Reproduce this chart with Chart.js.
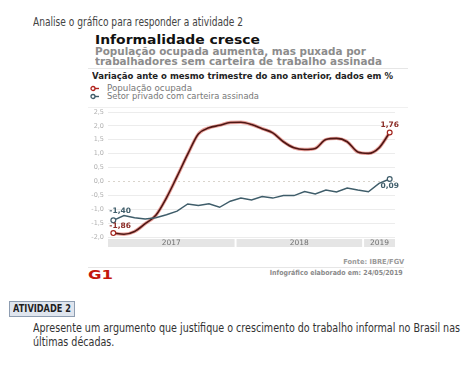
<!DOCTYPE html>
<html>
<head>
<meta charset="utf-8">
<script src="https://cdn.jsdelivr.net/npm/chart.js@4.4.1/dist/chart.umd.min.js"></script>
<style>
  body { margin: 0; background: #fff; width: 474px; height: 377px; overflow: hidden; position: relative; font-family: "DejaVu Sans", sans-serif; }
  .t { position: absolute; white-space: nowrap; transform-origin: left center; }
  .r { transform-origin: right center; }
  .hr { position: absolute; height: 1px; background: #e6e6e6; }
  #chartBox { position: absolute; left: 80px; top: 100px; width: 330px; height: 152px; }
</style>
</head>
<body>
<div class="t" data-w="210" style="left:33px; top:15px; font-size:12px; line-height:14px; color:#444;">Analise o gráfico para responder a atividade 2</div>

<div class="t" data-w="165" style="left:95px; top:32px; font-size:13px; line-height:15px; font-weight:bold; color:#111;">Informalidade cresce</div>
<div class="t" data-w="287" style="left:95px; top:46.5px; font-size:11px; line-height:10.5px; font-weight:bold; color:#8c8c8c;">População ocupada aumenta, mas puxada por<br>trabalhadores sem carteira de trabalho assinada</div>
<div class="hr" style="left:88px; top:68px; width:320px;"></div>
<div class="t" data-w="301" style="left:92px; top:71px; font-size:9px; line-height:10px; font-weight:bold; color:#222;">Variação ante o mesmo trimestre do ano anterior, dados em %</div>

<svg style="position:absolute; left:90px; top:84px;" width="12" height="16">
  <line x1="3" y1="4.5" x2="9" y2="4.5" stroke="#b2231d" stroke-width="1.4"/>
  <circle cx="3" cy="4.5" r="2" fill="#fff" stroke="#b2231d" stroke-width="1.3"/>
  <line x1="3" y1="12.5" x2="9" y2="12.5" stroke="#3f5d6a" stroke-width="1.4"/>
  <circle cx="3" cy="12.5" r="2" fill="#fff" stroke="#3f5d6a" stroke-width="1.3"/>
</svg>
<div class="t" data-w="85" style="left:107px; top:84px; font-size:8px; line-height:9px; color:#777;">População ocupada</div>
<div class="t" data-w="152" style="left:107px; top:92px; font-size:8px; line-height:9px; color:#777;">Setor privado com carteira assinada</div>
<div class="hr" style="left:88px; top:107px; width:320px; background:#f0f0f0;"></div>

<div id="chartBox"><canvas id="chart" width="330" height="152"></canvas></div>

<div class="t r" data-w="61" style="right:70px; top:258px; font-size:7px; line-height:8px; font-weight:bold; color:#9a9a9a;">Fonte: IBRE/FGV</div>
<div class="hr" style="left:88px; top:267px; width:316px;"></div>
<div class="t" data-w="25" style="left:88px; top:268px; font-size:13px; line-height:14px; font-weight:bold; color:#c4170c;">G1</div>
<div class="t r" data-w="133" style="right:71px; top:269px; font-size:7px; line-height:8px; font-weight:bold; color:#8a8a8a;">Infográfico elaborado em: 24/05/2019</div>

<div style="position:absolute; left:9px; top:301px; width:64px; height:14px; background:#dfe5ee; border:1px solid #8e9db1;"></div>
<div class="t" data-w="58" style="left:13px; top:303px; font-size:10px; line-height:11px; font-weight:bold; color:#1e1e1e;">ATIVIDADE 2</div>
<div class="t" data-w="427" style="left:33px; top:322px; font-size:12px; line-height:13.5px; color:#333;">Apresente um argumento que justifique o crescimento do trabalho informal no Brasil nas<br>últimas décadas.</div>

<script>
const months = ['jan/17', 'fev/17', 'mar/17', 'abr/17', 'mai/17', 'jun/17', 'jul/17', 'ago/17', 'set/17', 'out/17', 'nov/17', 'dez/17',
                'jan/18', 'fev/18', 'mar/18', 'abr/18', 'mai/18', 'jun/18', 'jul/18', 'ago/18', 'set/18', 'out/18', 'nov/18', 'dez/18',
                'jan/19', 'fev/19', 'mar/19'];
const years = ['2017', '2018', '2019'];
const populacaoOcupada = [-1.86, -1.90, -1.80, -1.52, -1.22, -0.59, 0.18, 0.98, 1.71, 1.93, 2.02, 2.12, 2.13, 2.05, 1.90, 1.75, 1.43, 1.21, 1.15, 1.19, 1.51, 1.55, 1.43, 1.06, 1.01, 1.21, 1.76];
const setorPrivado = [-1.40, -1.23, -1.31, -1.35, -1.31, -1.20, -1.07, -0.81, -0.87, -0.80, -0.93, -0.71, -0.60, -0.67, -0.54, -0.60, -0.51, -0.51, -0.36, -0.45, -0.31, -0.38, -0.24, -0.31, -0.37, -0.07, 0.09];
const yTicks = [-2.0, -1.5, -1.0, -0.5, 0.0, 0.5, 1.0, 1.5, 2.0, 2.5];

const red = '#4e1714';
const blue = '#3f5d6a';
const fmt = v => v.toFixed(2).replace('.', ',');

// shrink/stretch text horizontally to match the reference widths
document.querySelectorAll('.t[data-w]').forEach(el => {
    const w = el.getBoundingClientRect().width;
    el.style.transform = 'scaleX(' + (parseFloat(el.dataset.w) / w) + ')';
});

const last = months.length - 1;
const endPoint = ctx => (ctx.dataIndex === 0 || ctx.dataIndex === last) ? 2.4 : 0;

const extras = {
    id: 'extras',
    beforeDatasetsDraw(chart) {
        const { ctx, chartArea, scales: { y } } = chart;
        // dashed zero line
        ctx.save();
        ctx.strokeStyle = '#d9d4cc';
        ctx.setLineDash([2, 3]);
        ctx.lineWidth = 1;
        ctx.beginPath();
        ctx.moveTo(chartArea.left, Math.round(y.getPixelForValue(0)) + 0.5);
        ctx.lineTo(chartArea.right, Math.round(y.getPixelForValue(0)) + 0.5);
        ctx.stroke();
        ctx.restore();
    },
    afterDraw(chart) {
        const { ctx, chartArea, scales: { x } } = chart;
        ctx.save();
        // year bands
        let start = 0;
        years.forEach(yr => {
            const count = months.filter(m => m.endsWith('/' + yr.slice(2))).length;
            const x0 = x.getPixelForValue(start - 0.5) + (start === 0 ? 0 : 1);
            const x1 = x.getPixelForValue(start + count - 0.5) - (start + count > last ? 0 : 1);
            ctx.fillStyle = '#e5e5e5';
            ctx.fillRect(x0, chartArea.bottom + 2, x1 - x0, 8);
            ctx.fillStyle = '#707070';
            ctx.font = '7.5px "DejaVu Sans"';
            ctx.textAlign = 'center';
            ctx.textBaseline = 'middle';
            ctx.fillText(yr, (x0 + x1) / 2, chartArea.bottom + 6.5);
            start += count;
        });
        // value labels at both ends
        ctx.font = 'bold 7.5px "DejaVu Sans"';
        ctx.textBaseline = 'middle';
        const p0 = chart.getDatasetMeta(1).data;
        const b0 = chart.getDatasetMeta(2).data;
        ctx.textAlign = 'left';
        ctx.fillStyle = blue;
        ctx.fillText(fmt(setorPrivado[0]), b0[0].x - 4, b0[0].y - 9);
        ctx.fillStyle = '#8a2a24';
        ctx.fillText(fmt(populacaoOcupada[0]), p0[0].x - 4, p0[0].y - 7);
        ctx.textAlign = 'center';
        ctx.fillText(fmt(populacaoOcupada[last]), p0[last].x, p0[last].y - 8);
        ctx.fillStyle = blue;
        ctx.fillText(fmt(setorPrivado[last]), b0[last].x, b0[last].y + 7);
        ctx.restore();
    }
};

new Chart(document.getElementById('chart'), {
    type: 'line',
    data: {
        labels: months,
        datasets: [{
            data: populacaoOcupada,
            borderColor: 'rgba(214, 72, 60, 0.5)',
            borderWidth: 3.4,
            pointRadius: 0,
            cubicInterpolationMode: 'monotone',
            order: 3
        }, {
            label: 'População ocupada',
            data: populacaoOcupada,
            borderColor: red,
            borderWidth: 1.6,
            pointRadius: endPoint,
            pointBackgroundColor: '#fff',
            pointBorderColor: '#a3261f',
            pointBorderWidth: 1.2,
            cubicInterpolationMode: 'monotone',
            order: 2
        }, {
            label: 'Setor privado com carteira assinada',
            data: setorPrivado,
            borderColor: blue,
            borderWidth: 1.5,
            tension: 0,
            pointRadius: endPoint,
            pointBackgroundColor: '#fff',
            pointBorderColor: blue,
            pointBorderWidth: 1.2,
            order: 1
        }]
    },
    options: {
        responsive: false,
        animation: false,
        devicePixelRatio: 1,
        layout: { padding: { left: 8, right: 15, top: 12, bottom: 15 } },
        plugins: { legend: { display: false }, tooltip: { enabled: false } },
        scales: {
            x: { type: 'category', display: false, offset: true },
            y: {
                min: -2, max: 2.5,
                afterBuildTicks: axis => { axis.ticks = yTicks.map(v => ({ value: v })); },
                afterFit: axis => { axis.width = 20; },
                ticks: {
                    callback: v => v.toFixed(1).replace('.', ','),
                    font: { size: 6.5, family: 'DejaVu Sans' },
                    color: '#b0b0b0',
                    padding: 4
                },
                grid: {
                    color: c => c.tick.value === 0 ? 'transparent' : '#ececec',
                    drawTicks: false
                },
                border: { display: false }
            }
        }
    },
    plugins: [extras]
});
</script>
</body>
</html>
